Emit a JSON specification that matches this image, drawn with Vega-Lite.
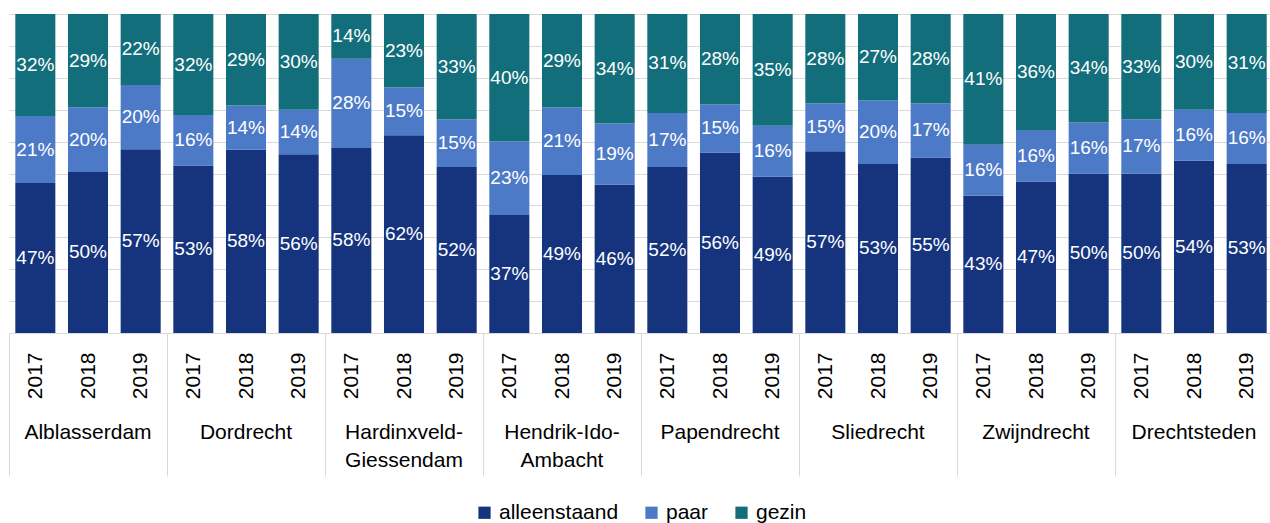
{
  "$schema": "https://vega.github.io/schema/vega-lite/v6.json",
  "padding": {"left": 8, "top": 14, "right": 0, "bottom": 0},
  "background": "white",
  "config": {
    "font": "Liberation Sans",
    "view": {"stroke": null},
    "axis": {"labelFont": "Liberation Sans", "labelColor": "#000000"},
    "header": {"labelFont": "Liberation Sans"},
    "legend": {"layout": {"bottom": {"anchor": "middle"}}}
  },
  "datasets": {
    "types": [
      {"type": "alleenstaand", "rank": 1},
      {"type": "paar", "rank": 2},
      {"type": "gezin", "rank": 3}
    ]
  },
  "data": {"values": [
    {"gemeente": "Alblasserdam", "jaar": "2017", "type": "alleenstaand", "pct": 0.47},
    {"gemeente": "Alblasserdam", "jaar": "2017", "type": "paar", "pct": 0.21},
    {"gemeente": "Alblasserdam", "jaar": "2017", "type": "gezin", "pct": 0.32},
    {"gemeente": "Alblasserdam", "jaar": "2018", "type": "alleenstaand", "pct": 0.50},
    {"gemeente": "Alblasserdam", "jaar": "2018", "type": "paar", "pct": 0.20},
    {"gemeente": "Alblasserdam", "jaar": "2018", "type": "gezin", "pct": 0.29},
    {"gemeente": "Alblasserdam", "jaar": "2019", "type": "alleenstaand", "pct": 0.57},
    {"gemeente": "Alblasserdam", "jaar": "2019", "type": "paar", "pct": 0.20},
    {"gemeente": "Alblasserdam", "jaar": "2019", "type": "gezin", "pct": 0.22},
    {"gemeente": "Dordrecht", "jaar": "2017", "type": "alleenstaand", "pct": 0.53},
    {"gemeente": "Dordrecht", "jaar": "2017", "type": "paar", "pct": 0.16},
    {"gemeente": "Dordrecht", "jaar": "2017", "type": "gezin", "pct": 0.32},
    {"gemeente": "Dordrecht", "jaar": "2018", "type": "alleenstaand", "pct": 0.58},
    {"gemeente": "Dordrecht", "jaar": "2018", "type": "paar", "pct": 0.14},
    {"gemeente": "Dordrecht", "jaar": "2018", "type": "gezin", "pct": 0.29},
    {"gemeente": "Dordrecht", "jaar": "2019", "type": "alleenstaand", "pct": 0.56},
    {"gemeente": "Dordrecht", "jaar": "2019", "type": "paar", "pct": 0.14},
    {"gemeente": "Dordrecht", "jaar": "2019", "type": "gezin", "pct": 0.30},
    {"gemeente": "Hardinxveld-Giessendam", "jaar": "2017", "type": "alleenstaand", "pct": 0.58},
    {"gemeente": "Hardinxveld-Giessendam", "jaar": "2017", "type": "paar", "pct": 0.28},
    {"gemeente": "Hardinxveld-Giessendam", "jaar": "2017", "type": "gezin", "pct": 0.14},
    {"gemeente": "Hardinxveld-Giessendam", "jaar": "2018", "type": "alleenstaand", "pct": 0.62},
    {"gemeente": "Hardinxveld-Giessendam", "jaar": "2018", "type": "paar", "pct": 0.15},
    {"gemeente": "Hardinxveld-Giessendam", "jaar": "2018", "type": "gezin", "pct": 0.23},
    {"gemeente": "Hardinxveld-Giessendam", "jaar": "2019", "type": "alleenstaand", "pct": 0.52},
    {"gemeente": "Hardinxveld-Giessendam", "jaar": "2019", "type": "paar", "pct": 0.15},
    {"gemeente": "Hardinxveld-Giessendam", "jaar": "2019", "type": "gezin", "pct": 0.33},
    {"gemeente": "Hendrik-Ido-Ambacht", "jaar": "2017", "type": "alleenstaand", "pct": 0.37},
    {"gemeente": "Hendrik-Ido-Ambacht", "jaar": "2017", "type": "paar", "pct": 0.23},
    {"gemeente": "Hendrik-Ido-Ambacht", "jaar": "2017", "type": "gezin", "pct": 0.40},
    {"gemeente": "Hendrik-Ido-Ambacht", "jaar": "2018", "type": "alleenstaand", "pct": 0.49},
    {"gemeente": "Hendrik-Ido-Ambacht", "jaar": "2018", "type": "paar", "pct": 0.21},
    {"gemeente": "Hendrik-Ido-Ambacht", "jaar": "2018", "type": "gezin", "pct": 0.29},
    {"gemeente": "Hendrik-Ido-Ambacht", "jaar": "2019", "type": "alleenstaand", "pct": 0.46},
    {"gemeente": "Hendrik-Ido-Ambacht", "jaar": "2019", "type": "paar", "pct": 0.19},
    {"gemeente": "Hendrik-Ido-Ambacht", "jaar": "2019", "type": "gezin", "pct": 0.34},
    {"gemeente": "Papendrecht", "jaar": "2017", "type": "alleenstaand", "pct": 0.52},
    {"gemeente": "Papendrecht", "jaar": "2017", "type": "paar", "pct": 0.17},
    {"gemeente": "Papendrecht", "jaar": "2017", "type": "gezin", "pct": 0.31},
    {"gemeente": "Papendrecht", "jaar": "2018", "type": "alleenstaand", "pct": 0.56},
    {"gemeente": "Papendrecht", "jaar": "2018", "type": "paar", "pct": 0.15},
    {"gemeente": "Papendrecht", "jaar": "2018", "type": "gezin", "pct": 0.28},
    {"gemeente": "Papendrecht", "jaar": "2019", "type": "alleenstaand", "pct": 0.49},
    {"gemeente": "Papendrecht", "jaar": "2019", "type": "paar", "pct": 0.16},
    {"gemeente": "Papendrecht", "jaar": "2019", "type": "gezin", "pct": 0.35},
    {"gemeente": "Sliedrecht", "jaar": "2017", "type": "alleenstaand", "pct": 0.57},
    {"gemeente": "Sliedrecht", "jaar": "2017", "type": "paar", "pct": 0.15},
    {"gemeente": "Sliedrecht", "jaar": "2017", "type": "gezin", "pct": 0.28},
    {"gemeente": "Sliedrecht", "jaar": "2018", "type": "alleenstaand", "pct": 0.53},
    {"gemeente": "Sliedrecht", "jaar": "2018", "type": "paar", "pct": 0.20},
    {"gemeente": "Sliedrecht", "jaar": "2018", "type": "gezin", "pct": 0.27},
    {"gemeente": "Sliedrecht", "jaar": "2019", "type": "alleenstaand", "pct": 0.55},
    {"gemeente": "Sliedrecht", "jaar": "2019", "type": "paar", "pct": 0.17},
    {"gemeente": "Sliedrecht", "jaar": "2019", "type": "gezin", "pct": 0.28},
    {"gemeente": "Zwijndrecht", "jaar": "2017", "type": "alleenstaand", "pct": 0.43},
    {"gemeente": "Zwijndrecht", "jaar": "2017", "type": "paar", "pct": 0.16},
    {"gemeente": "Zwijndrecht", "jaar": "2017", "type": "gezin", "pct": 0.41},
    {"gemeente": "Zwijndrecht", "jaar": "2018", "type": "alleenstaand", "pct": 0.47},
    {"gemeente": "Zwijndrecht", "jaar": "2018", "type": "paar", "pct": 0.16},
    {"gemeente": "Zwijndrecht", "jaar": "2018", "type": "gezin", "pct": 0.36},
    {"gemeente": "Zwijndrecht", "jaar": "2019", "type": "alleenstaand", "pct": 0.50},
    {"gemeente": "Zwijndrecht", "jaar": "2019", "type": "paar", "pct": 0.16},
    {"gemeente": "Zwijndrecht", "jaar": "2019", "type": "gezin", "pct": 0.34},
    {"gemeente": "Drechtsteden", "jaar": "2017", "type": "alleenstaand", "pct": 0.50},
    {"gemeente": "Drechtsteden", "jaar": "2017", "type": "paar", "pct": 0.17},
    {"gemeente": "Drechtsteden", "jaar": "2017", "type": "gezin", "pct": 0.33},
    {"gemeente": "Drechtsteden", "jaar": "2018", "type": "alleenstaand", "pct": 0.54},
    {"gemeente": "Drechtsteden", "jaar": "2018", "type": "paar", "pct": 0.16},
    {"gemeente": "Drechtsteden", "jaar": "2018", "type": "gezin", "pct": 0.30},
    {"gemeente": "Drechtsteden", "jaar": "2019", "type": "alleenstaand", "pct": 0.53},
    {"gemeente": "Drechtsteden", "jaar": "2019", "type": "paar", "pct": 0.16},
    {"gemeente": "Drechtsteden", "jaar": "2019", "type": "gezin", "pct": 0.31}
  ]},
  "transform": [
    {"lookup": "type", "from": {"data": {"name": "types"}, "key": "type", "fields": ["rank"]}}
  ],
  "facet": {
    "column": {
      "field": "gemeente",
      "type": "nominal",
      "sort": ["Alblasserdam", "Dordrecht", "Hardinxveld-Giessendam", "Hendrik-Ido-Ambacht", "Papendrecht", "Sliedrecht", "Zwijndrecht", "Drechtsteden"],
      "title": null,
      "header": {
        "labelOrient": "bottom",
        "labelFontSize": 21,
        "labelColor": "#000000",
        "labelLineHeight": 28,
        "labelPadding": -55,
        "labelExpr": "datum.value == 'Hardinxveld-Giessendam' ? ['Hardinxveld-', 'Giessendam'] : datum.value == 'Hendrik-Ido-Ambacht' ? ['Hendrik-Ido-', 'Ambacht'] : datum.value"
      }
    }
  },
  "spacing": 0,
  "spec": {
    "width": 158,
    "height": 319,
    "encoding": {
      "x": {
        "field": "jaar",
        "type": "ordinal",
        "title": null,
        "scale": {"paddingInner": 0.24, "paddingOuter": 0.12},
        "axis": {
          "labelAngle": -90,
          "labelFontSize": 21,
          "labelPadding": -124,
          "bandPosition": 0,
          "tickExtra": false,
          "tickOffset": -6.3,
          "labelOffset": 6.3,
          "tickSize": 143,
          "tickColor": "#D9D9D9",
          "tickOpacity": {"condition": {"test": "datum.value == '2017'", "value": 1}, "value": 0},
          "domainColor": "#D9D9D9"
        }
      },
      "y": {
        "field": "pct",
        "type": "quantitative",
        "stack": "normalize",
        "title": null,
        "scale": {"domain": [0, 1]},
        "axis": {"labels": false, "ticks": false, "domain": false, "values": [0, 0.1, 0.2, 0.3, 0.4, 0.5, 0.6, 0.7, 0.8, 0.9, 1], "gridColor": "#D9D9D9"}
      },
      "order": {"field": "rank", "type": "quantitative"}
    },
    "layer": [
      {
        "mark": {"type": "bar"},
        "encoding": {
          "color": {
            "field": "type",
            "type": "nominal",
            "scale": {"domain": ["alleenstaand", "paar", "gezin"], "range": ["#15347D", "#4D7AC7", "#136E7B"]},
            "legend": {
              "title": null,
              "orient": "bottom",
              "direction": "horizontal",
              "symbolType": "square",
              "symbolSize": 150,
              "symbolStrokeWidth": 0,
              "labelFontSize": 21,
              "labelColor": "#000000",
              "labelOffset": 4,
              "columnPadding": 22,
              "offset": 25
            }
          }
        }
      },
      {
        "mark": {"type": "text", "color": "white", "fontSize": 19},
        "encoding": {
          "y": {"field": "pct", "type": "quantitative", "stack": "normalize", "bandPosition": 0.5},
          "detail": {"field": "type"},
          "text": {"field": "pct", "type": "quantitative", "format": ".0%"}
        }
      }
    ]
  }
}
